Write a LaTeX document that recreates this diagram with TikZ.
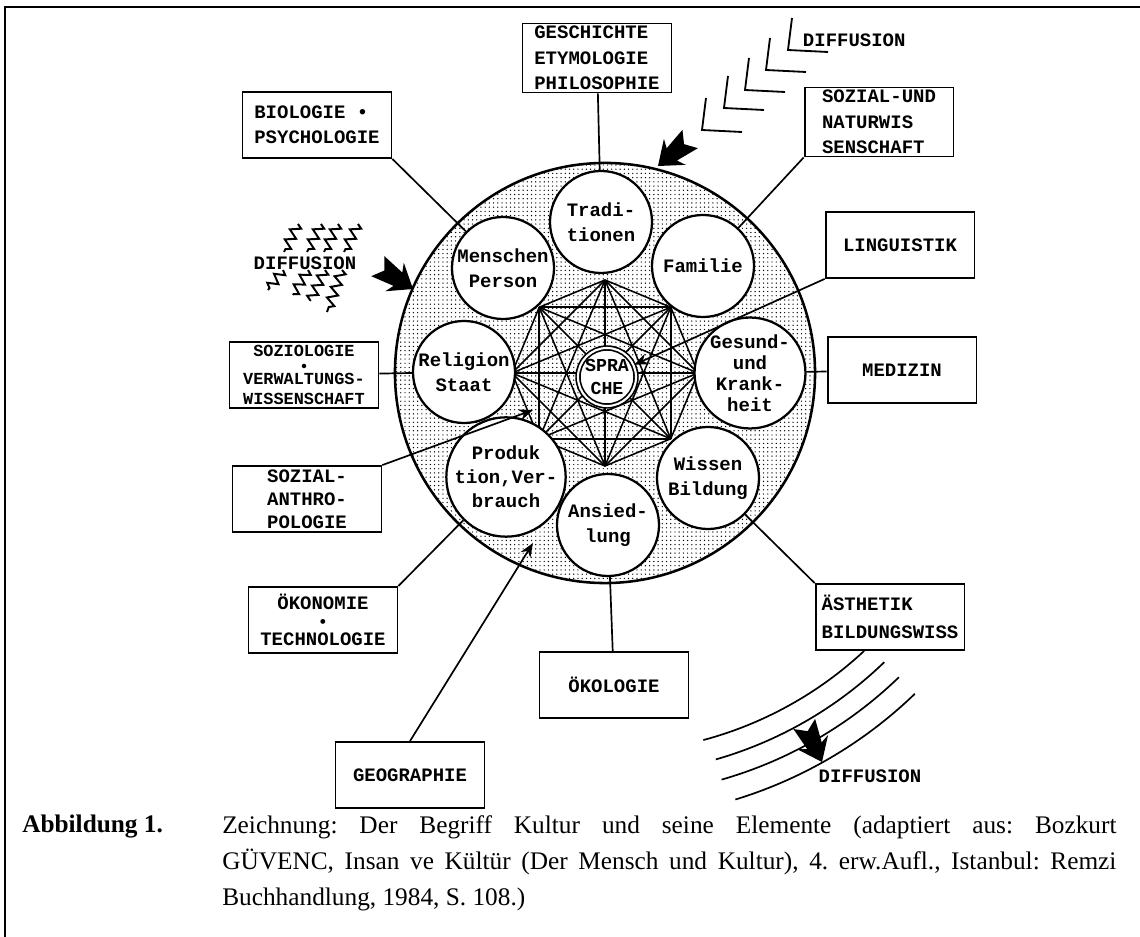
\documentclass[tikz,border=0pt]{standalone}
\usepackage{fontspec}
\setmainfont{Liberation Serif}
\setmonofont{Liberation Mono}
\usetikzlibrary{
    positioning,
    arrows.meta,
    calc,
    decorations.pathmorphing,
    patterns
}

\newcommand{\blockpfeil}[2]{%
  \fill[shift={#1}, rotate=#2] (0,0) -- (-22,-17) -- (-18,-8) -- (-42,-12)
    -- (-34,0) -- (-42,12) -- (-18,8) -- (-22,17) -- cycle;}
\newcommand{\punkt}{{\fontsize{12}{9}\selectfont\textbullet}}

\begin{document}
\begin{tikzpicture}[
            x=0.025cm, y=-0.025cm,
            fach/.style={draw, line width=1.3pt, minimum width=3.72cm,
              minimum height=1.65cm, inner sep=2pt, align=left,
              font=\ttfamily\bfseries\fontsize{13.5}{18}\selectfont},
            element/.style={circle, draw, line width=1.6pt, fill=white,
              minimum size=2.55cm, inner sep=0pt, align=center,
              font=\ttfamily\bfseries\fontsize{13.5}{18}\selectfont},
            verbind/.style={line width=1.2pt},
            netz/.style={line width=1.1pt},
            welle/.style={line width=1.4pt, decorate,
              decoration={zigzag, amplitude=3.5pt, segment length=8pt}},
            diff/.style={font=\ttfamily\bfseries\fontsize{13.5}{18}\selectfont},
        ]
          \useasboundingbox (0,0) rectangle (1140,937);

          % Frame
          \draw[line width=1.5pt] (5,937) -- (5,7) -- (1140,7);

          % Culture circle with stipple
          \coordinate (c) at (605,373);
          \draw[line width=1.8pt, pattern=dots, pattern color=black] (c) circle (5.25cm);

          % Octagon vertices and full network
          \foreach \i in {0,...,7}
            \coordinate (v\i) at ($(c)+(\i*45:93)$);
          \foreach \i in {0,...,6} {
            \pgfmathtruncatemacro\k{\i+1}
            \foreach \j in {\k,...,7}
              \draw[netz] (v\i) -- (v\j);
          }

          % Elements
          \node[element] (trad) at (601,222) {Tradi-\\tionen};
          \node[element] (familie) at (703,266) {Familie};
          \node[element, font=\ttfamily\bfseries\fontsize{13.5}{15}\selectfont] (gesund) at (750,373) {Gesund-\\und\\Krank-\\heit};
          \node[element] (wissen) at (708,478) {Wissen\\Bildung};
          \node[element] (ansied) at (608,525) {Ansied-\\lung};
          \node[element, font=\ttfamily\bfseries\fontsize{13.5}{17}\selectfont] (produktion) at (506,477) {Produk\\tion,Ver-\\brauch};
          \node[element] (religion) at (464,372) {Religion\\Staat};
          \node[element] (mensch) at (503,268) {Menschen\\Person};
          \node[element, minimum size=1.45cm, line width=1.2pt, double, double distance=1.5pt,
            font=\ttfamily\bfseries\fontsize{13}{16}\selectfont] (sprache) at (607,377) {SPRA\\CHE};

          % Disciplines
          \node[fach] (gesch) at (597,58) {GESCHICHTE\\ETYMOLOGIE\\PHILOSOPHIE};
          \node[fach] (bio) at (317,125) {BIOLOGIE \textbullet\\PSYCHOLOGIE};
          \node[fach] (sozial) at (879,122) {SOZIAL-UND\\NATURWIS\\SENSCHAFT};
          \node[fach] (ling) at (900,245) {LINGUISTIK};
          \node[fach] (med) at (902,370) {MEDIZIN};
          \node[fach, align=center, font=\ttfamily\bfseries\fontsize{12}{14}\selectfont] (soziol) at (304,375) {SOZIOLOGIE\\[6pt]VERWALTUNGS-\\WISSENSCHAFT};
          \fill ($(soziol)+(0,-9)$) circle (1.6pt);
          \node[fach, font=\ttfamily\bfseries\fontsize{13.5}{16.5}\selectfont] (anthro) at (307,499) {SOZIAL-\\ANTHRO-\\POLOGIE};
          \node[fach, align=center, font=\ttfamily\bfseries\fontsize{13.5}{16}\selectfont] (oekon) at (323,620) {ÖKONOMIE\\[-3pt]\punkt\\[-3pt]TECHNOLOGIE};
          \node[fach] (oekol) at (614,685) {ÖKOLOGIE};
          \node[fach] (geo) at (410,775) {GEOGRAPHIE};
          \node[fach, font=\ttfamily\bfseries\fontsize{13.5}{20}\selectfont] (aesth) at (890,617) {ÄSTHETIK\\BILDUNGSWISS};

          % Free arrow ends
          \coordinate (anthrotip) at (533,410);
          \coordinate (geotip) at (533,543);

          % Connectors
          \draw[verbind] (gesch) -- (trad);
          \draw[verbind] (bio.south east) -- (mensch);
          \draw[verbind] (sozial.south west) -- (familie);
          \draw[verbind, -{Stealth[length=10pt, width=8pt]}] (ling.south west) -- (sprache);
          \draw[verbind] (med) -- (gesund);
          \draw[verbind] (soziol) -- (religion);
          \draw[verbind, -{Stealth[length=10pt, width=8pt]}] (anthro.north east) -- (anthrotip);
          \draw[verbind] (oekon.north east) -- (produktion);
          \draw[verbind, -{Stealth[length=10pt, width=8pt]}] (geo.north) -- (geotip);
          \draw[verbind] (oekol) -- (ansied);
          \draw[verbind] (aesth.north west) -- (wissen);

          % Diffusion top
          \node[diff, anchor=west] (difftop) at (798,40) {DIFFUSION};
          \foreach \dx/\dy in {0/0, -22/20, -43/40, -64/58, -86/80}
            \draw[line width=1.3pt] (792+\dx,18+\dy) -- (788+\dx,50+\dy) -- (828+\dx,52+\dy);
          \blockpfeil{(658,166)}{-140}

          % Diffusion left
          \node[diff] (diffleft) at (305,263) {DIFFUSION};
          \foreach \x in {298,321,338,358}
            \draw[welle] (\x,224) -- (\x-14,252);
          \foreach \x/\l in {283/20, 308/25, 325/31, 342/42}
            \draw[welle] (\x,270) -- (\x-15,270+\l);
          \blockpfeil{(413,289)}{-33}

          % Diffusion bottom right
          \foreach \r/\a/\b in {380/47/75, 402/46/74, 423/46/74, 446/46/73}
            \draw[line width=1.2pt] ($(c)+(\a:\r)$) arc[start angle=\a, end angle=\b, radius=\r];
          \blockpfeil{(822,762)}{-65}
          \node[diff] (diffbottom) at (870,776) {DIFFUSION};

          % Caption
          \node[anchor=north west, inner sep=0pt, font=\bfseries\fontsize{18}{25.6}\selectfont] (abb) at (22,815) {Abbildung 1.};
          \node[anchor=north west, inner sep=0pt, text width=22.35cm, align=justify,
            font=\frenchspacing\fontsize{18}{25.6}\selectfont] (unterschrift) at (222,815)
            {Zeichnung: Der Begriff Kultur und seine Elemente (adaptiert aus: Bozkurt\linebreak
             GÜVENC, Insan ve Kültür (Der Mensch und Kultur), 4. erw.Aufl., Istanbul: Remzi\linebreak
             Buchhandlung, 1984, S. 108.)};
        \end{tikzpicture}
\end{document}
